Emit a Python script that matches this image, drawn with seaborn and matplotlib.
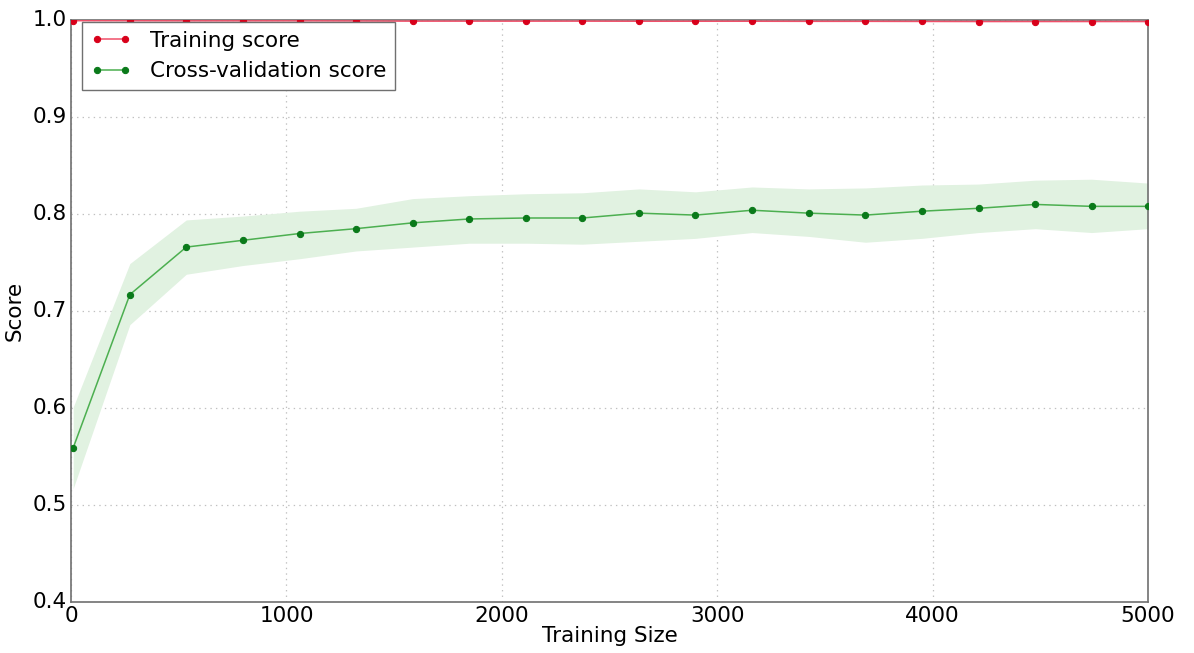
import numpy as np
import pandas as pd
import matplotlib
matplotlib.use("Agg")
import matplotlib.pyplot as plt
import seaborn as sns

train_sizes = [10, 273, 535, 798, 1061, 1323, 1586, 1849, 2111, 2374,
               2637, 2899, 3162, 3425, 3688, 3950, 4213, 4476, 4738, 5000]
train_mean = [0.9995, 0.9994, 0.9993, 0.9993, 0.9993, 0.9992, 0.9990, 0.9990, 0.9990, 0.9990,
              0.9989, 0.9989, 0.9989, 0.9988, 0.9988, 0.9987, 0.9986, 0.9986, 0.9986, 0.9986]
cv_mean = [0.559, 0.717, 0.766, 0.773, 0.780, 0.785, 0.791, 0.795, 0.796, 0.796,
           0.801, 0.799, 0.804, 0.801, 0.799, 0.803, 0.806, 0.810, 0.808, 0.808]
cv_upper = [0.601, 0.749, 0.794, 0.798, 0.803, 0.806, 0.816, 0.819, 0.821, 0.822,
            0.826, 0.823, 0.828, 0.826, 0.827, 0.830, 0.831, 0.835, 0.836, 0.832]
cv_lower = [0.517, 0.686, 0.738, 0.747, 0.754, 0.762, 0.766, 0.770, 0.770, 0.769,
            0.772, 0.775, 0.781, 0.777, 0.771, 0.775, 0.781, 0.785, 0.781, 0.785]

plt.style.use("classic")
plt.rcParams['font.family'] = ['DejaVu Sans']
FS = 15.5
plt.rcParams['font.size'] = FS

fig = plt.figure(figsize=(11.94, 6.53), dpi=100, facecolor="white")
ax = fig.add_axes([0.0595, 0.0781, 0.902, 0.891])

df_train = pd.DataFrame({"size": train_sizes, "score": train_mean})
df_cv = pd.DataFrame({"size": train_sizes, "score": cv_mean})

ax.fill_between(train_sizes, cv_lower, cv_upper, color="#e1f2e1", lw=0, zorder=1)

sns.lineplot(data=df_train, x="size", y="score", ax=ax, color="#f0506a", lw=1.1,
             marker="o", markersize=4.5, markerfacecolor="#d8001a", markeredgecolor="#d8001a",
             label="Training score", zorder=3)
sns.lineplot(data=df_cv, x="size", y="score", ax=ax, color="#4caf50", lw=1.1,
             marker="o", markersize=4.5, markerfacecolor="#0a7a1a", markeredgecolor="#0a7a1a",
             label="Cross-validation score", zorder=3)

ax.set_xlim(0, 5000)
ax.set_ylim(0.4, 1.0)
ax.set_xticks([0, 1000, 2000, 3000, 4000, 5000])
ax.set_yticks([0.4, 0.5, 0.6, 0.7, 0.8, 0.9, 1.0])
ax.set_xlabel("Training Size", fontsize=FS, labelpad=0)
ax.set_ylabel("Score", fontsize=FS, labelpad=6)
ax.tick_params(length=0, labelsize=FS, pad=3)
ax.grid(True, color="#c0c0c0", linestyle=":", linewidth=0.9)
ax.set_axisbelow(True)
for s in ax.spines.values():
    s.set_edgecolor("#707070")
    s.set_linewidth(1.2)

leg = ax.legend(loc="upper left", bbox_to_anchor=(0.01, 0.997), fontsize=FS, numpoints=2,
                frameon=True, fancybox=False, borderaxespad=0.0, handlelength=1.9,
                handletextpad=0.87)
leg.get_frame().set_edgecolor("#707070")
leg.get_frame().set_linewidth(1.0)

fig.savefig("out.png", dpi=100, facecolor="white")
